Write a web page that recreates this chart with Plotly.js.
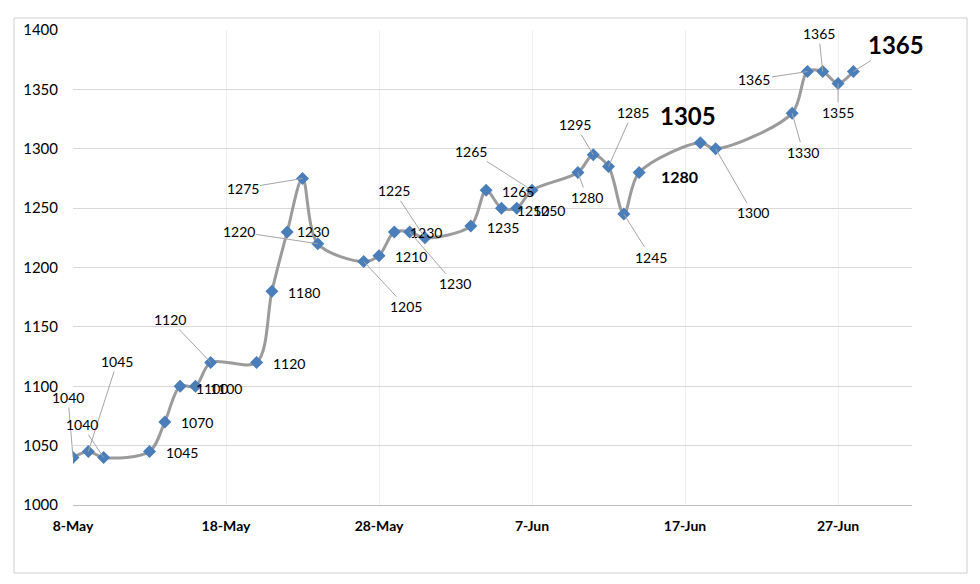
<!DOCTYPE html>
<html>
<head>
<meta charset="utf-8">
<script src="https://cdn.plot.ly/plotly-3.0.1.min.js"></script>
<style>html,body{margin:0;padding:0;background:#fff;}#chart{width:980px;height:584px;}</style>
</head>
<body>
<div id="chart"></div>
<script>
// ---- data ----
var dates = ["2019-05-08","2019-05-09","2019-05-10","2019-05-13","2019-05-14","2019-05-15","2019-05-16","2019-05-17",
  "2019-05-20","2019-05-21","2019-05-22","2019-05-23","2019-05-24","2019-05-27","2019-05-28","2019-05-29","2019-05-30","2019-05-31",
  "2019-06-03","2019-06-04","2019-06-05","2019-06-06","2019-06-07","2019-06-10","2019-06-11","2019-06-12","2019-06-13","2019-06-14",
  "2019-06-18","2019-06-19","2019-06-24","2019-06-25","2019-06-26","2019-06-27","2019-06-28"];
var values = [1040,1045,1040,1045,1070,1100,1100,1120,
  1120,1180,1230,1275,1220,1205,1210,1230,1230,1225,
  1235,1265,1250,1250,1265,1280,1295,1285,1245,1280,
  1305,1300,1330,1365,1365,1355,1365];
var yTicks = [1000,1050,1100,1150,1200,1250,1300,1350,1400];

// ---- label placement (pixel offsets from each point: ax, ay, leader line?, style) ----
var labelPos = [
  [-5,-60,1,0],[29,-90,1,0],[-22,-33,1,0],[32,1,0,0],[32,1,0,0],[32,2,0,0],[31,2,0,0],[-41,-43,1,0],
  [32,1,0,0],[32,1,0,0],[26,0,0,0],[-60,10,1,0],[-79,-12,1,0],[42,45,1,0],[32,1,0,0],[32,1,0,0],[45,52,1,0],[-31,-47,1,0],
  [32,2,0,0],[32,1,0,0],[32,2,0,0],[32,2,0,0],[-61,-39,1,0],[9,25,1,0],[-18,-30,1,0],[24,-54,1,0],[27,43,1,0],[40,4,0,1],
  [-12,-27,0,2],[37,64,1,0],[11,39,1,0],[-53,8,1,0],[-4,-38,1,0],[0,29,1,0],[43,-27,1,2]
];
var labelFonts = [
  {family:"Lato, 'Open Sans', sans-serif", size:14, color:"#000"},
  {family:"Lato, 'Open Sans', sans-serif", size:16, color:"#000"},
  {family:"Lato, 'Open Sans', sans-serif", size:24, color:"#000"}
];

var annotations = values.map(function(v,i){
  var p = labelPos[i];
  var f = labelFonts[p[3]];
  var txt = p[3] ? "<b>"+v+"</b>" : String(v);
  if (p[2]) {
    return {x:dates[i], y:v, xref:"x", yref:"y", text:txt, showarrow:true, arrowhead:0,
      arrowwidth:1, arrowcolor:"#a6a6a6", ax:p[0], ay:p[1], axref:"pixel", ayref:"pixel",
      font:{family:f.family,size:f.size,color:f.color}, standoff:0};
  }
  return {x:dates[i], y:v, xref:"x", yref:"y", text:txt, showarrow:false,
    xshift:p[0], yshift:-p[1], font:{family:f.family,size:f.size,color:f.color}};
});

var trace = {
  x: dates, y: values, type:"scatter", mode:"lines+markers",
  line:{color:"#9b9b9b", width:3, shape:"spline", smoothing:0.9},
  marker:{symbol:"diamond", size:10, color:"#4a7ebb"},
  hoverinfo:"none"
};

var layout = {
  width:980, height:584,
  margin:{l:73, r:68, t:30, b:79},
  paper_bgcolor:"#fff", plot_bgcolor:"#fff",
  showlegend:false,
  xaxis:{type:"date", range:["2019-05-08","2019-07-01 20:00"],
    tick0:"2019-05-08", dtick:10*86400000, tickformat:"%-d-%b",
    showgrid:true, gridcolor:"#efefef", gridwidth:1,
    showline:true, linecolor:"#bfbfbf", linewidth:1,
    zeroline:false, ticks:"", ticklabelstandoff:8,
    tickfont:{family:"Lato, 'Open Sans', sans-serif", size:14, color:"#000", weight:"bold"}},
  yaxis:{range:[1000,1400], tickvals:yTicks, ticktext:yTicks.map(String),
    showgrid:true, gridcolor:"#d9d9d9", gridwidth:1,
    showline:false, zeroline:false, ticks:"", ticklabelstandoff:14,
    tickfont:{family:"Lato, 'Open Sans', sans-serif", size:15, color:"#000"}},
  annotations: annotations,
  shapes:[{type:"rect", xref:"paper", yref:"paper", x0:-0.0703, x1:1.0656, y0:-0.1432, y1:1.0253,
    line:{color:"#d0d0d0", width:1}, fillcolor:"rgba(0,0,0,0)", layer:"below"}]
};

Plotly.newPlot("chart", [trace], layout, {displayModeBar:false, staticPlot:true});
</script>
</body>
</html>
